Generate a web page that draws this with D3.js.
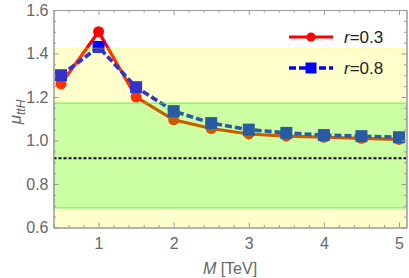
<!DOCTYPE html>
<meta charset="utf-8">
<style>
	body { margin: 0; background: #fff; }
	text { font-family: "Liberation Sans", Arial, sans-serif; fill: #666; }
</style>
<body>
<script src="https://cdn.jsdelivr.net/npm/d3@7"></script>
<script>

	// masses in TeV and signal strengths
	var masses = [0.5, 1, 1.5, 2, 2.5, 3, 3.5, 4, 4.5, 5];
	var muR03 = [1.26, 1.50, 1.20, 1.095, 1.055, 1.03, 1.02, 1.015, 1.01, 1.005];
	var muR08 = [1.30, 1.43, 1.245, 1.135, 1.08, 1.05, 1.035, 1.025, 1.02, 1.015];
	var seriesNames = ["r=0.3", "r=0.8"];

	// bands and reference line
	var yellowBand = [0.5, 1.425];
	var greenBand = [0.69, 1.172];
	var smLine = 0.918;

	var xTicks = [1, 2, 3, 4, 5];
	var yTicks = [0.6, 0.8, 1.0, 1.2, 1.4, 1.6];

	var width = 409, height = 278;
	var margin = {left: 53.5, right: 2.5, top: 10, bottom: 50.5};

	var x = d3.scaleLinear().domain([0.4, 5.1]).range([margin.left, width - margin.right]);
	var y = d3.scaleLinear().domain([0.6, 1.6]).range([height - margin.bottom, margin.top]);

	var svg = d3.select("body").append("svg")
		.attr("width", width)
		.attr("height", height);

	svg.append("clipPath").attr("id", "plot")
		.append("rect")
		.attr("x", x.range()[0]).attr("y", y.range()[1])
		.attr("width", x.range()[1] - x.range()[0])
		.attr("height", y.range()[0] - y.range()[1]);

	var plot = svg.append("g").attr("clip-path", "url(#plot)");

	var line = d3.line()
		.x(function(d, i) { return x(masses[i]); })
		.y(function(d) { return y(d); });

	// red series
	plot.append("path")
		.datum(muR03)
		.attr("d", line)
		.attr("fill", "none")
		.attr("stroke", "#ff0000")
		.attr("stroke-width", 3.2);
	plot.selectAll(".dot")
		.data(muR03)
		.enter().append("circle")
		.attr("cx", function(d, i) { return x(masses[i]); })
		.attr("cy", function(d) { return y(d); })
		.attr("r", 5.5)
		.attr("fill", "#ff0000");

	// blue series
	plot.append("path")
		.datum(muR08)
		.attr("d", line)
		.attr("fill", "none")
		.attr("stroke", "#0000ff")
		.attr("stroke-width", 3.6)
		.attr("stroke-dasharray", "7,3");
	plot.selectAll(".sq")
		.data(muR08)
		.enter().append("rect")
		.attr("x", function(d, i) { return x(masses[i]) - 6; })
		.attr("y", function(d) { return y(d) - 6; })
		.attr("width", 12)
		.attr("height", 12)
		.attr("fill", "#0000ff");

	// translucent bands drawn over the curves
	plot.append("rect")
		.attr("x", x.range()[0]).attr("width", x.range()[1] - x.range()[0])
		.attr("y", y(yellowBand[1])).attr("height", y(yellowBand[0]) - y(yellowBand[1]))
		.attr("fill", "#ffff00").attr("fill-opacity", 0.2)
		.attr("stroke", "#ffff00").attr("stroke-opacity", 0.3);
	plot.append("rect")
		.attr("x", x.range()[0]).attr("width", x.range()[1] - x.range()[0])
		.attr("y", y(greenBand[1])).attr("height", y(greenBand[0]) - y(greenBand[1]))
		.attr("fill", "#00ff00").attr("fill-opacity", 0.2)
		.attr("stroke", "#33ee33").attr("stroke-opacity", 0.5).attr("stroke-width", 1.5);

	plot.append("line")
		.attr("x1", x.range()[0]).attr("x2", x.range()[1])
		.attr("y1", y(smLine)).attr("y2", y(smLine))
		.attr("stroke", "#000").attr("stroke-width", 2)
		.attr("stroke-dasharray", "3,2");

	// frame with inward ticks
	var axisColor = "#9a9a9a";
	function frame(axis, transform, labels) {
		var g = svg.append("g").attr("transform", transform).call(axis);
		g.select(".domain").attr("stroke", axisColor);
		g.selectAll(".tick line").attr("stroke", axisColor);
		g.selectAll("text").attr("fill", "#666").style("font-size", "16px");
		if (!labels) g.selectAll("text").remove();
		return g;
	}
	var xMinor = d3.range(0.4, 5.11, 0.2).map(function(v) { return +v.toFixed(1); })
		.filter(function(v) { return xTicks.indexOf(v) < 0; });
	var yMinor = d3.range(0.6, 1.601, 0.05).map(function(v) { return +v.toFixed(2); })
		.filter(function(v) { return yTicks.map(function(t) { return t.toFixed(2); }).indexOf(v.toFixed(2)) < 0; });

	var by = y.range()[0], ty = y.range()[1], lx = x.range()[0], rx = x.range()[1];
	frame(d3.axisBottom(x).tickValues(xMinor).tickSize(-2.5).tickSizeOuter(0).tickFormat(""), "translate(0," + by + ")", false);
	frame(d3.axisTop(x).tickValues(xMinor).tickSize(-2.5).tickSizeOuter(0).tickFormat(""), "translate(0," + ty + ")", false);
	frame(d3.axisLeft(y).tickValues(yMinor).tickSize(-2.5).tickSizeOuter(0).tickFormat(""), "translate(" + lx + ",0)", false);
	frame(d3.axisRight(y).tickValues(yMinor).tickSize(-2.5).tickSizeOuter(0).tickFormat(""), "translate(" + rx + ",0)", false);

	frame(d3.axisBottom(x).tickValues(xTicks).tickSize(-5).tickSizeOuter(0).tickPadding(10).tickFormat(d3.format("d")), "translate(0," + by + ")", true);
	frame(d3.axisTop(x).tickValues(xTicks).tickSize(-5).tickSizeOuter(0), "translate(0," + ty + ")", false);
	frame(d3.axisLeft(y).tickValues(yTicks).tickSize(-5).tickSizeOuter(0).tickPadding(5).tickFormat(d3.format(".1f")), "translate(" + lx + ",0)", true);
	frame(d3.axisRight(y).tickValues(yTicks).tickSize(-5).tickSizeOuter(0), "translate(" + rx + ",0)", false);

	// axis titles
	var xt = svg.append("text")
		.attr("x", 230).attr("y", 274)
		.attr("text-anchor", "middle")
		.style("font-size", "16px");
	xt.append("tspan").attr("font-style", "italic").text("M");
	xt.append("tspan").text(" [TeV]");

	var yt = svg.append("text")
		.attr("transform", "translate(21,112) rotate(-90)")
		.attr("text-anchor", "middle")
		.style("font-size", "17px");
	yt.append("tspan").attr("font-style", "italic").text("μ");
	yt.append("tspan").attr("font-style", "italic").attr("dy", 4).style("font-size", "12px").text("ttH");

	// legend
	var legend = svg.append("g");
	var legY = [37, 68];
	legend.append("line").attr("x1", 289).attr("x2", 333).attr("y1", legY[0]).attr("y2", legY[0])
		.attr("stroke", "#ff0000").attr("stroke-width", 3.2);
	legend.append("circle").attr("cx", 311).attr("cy", legY[0]).attr("r", 4.5).attr("fill", "#ff0000");
	legend.append("line").attr("x1", 289).attr("x2", 333).attr("y1", legY[1]).attr("y2", legY[1])
		.attr("stroke", "#0000ff").attr("stroke-width", 3.6).attr("stroke-dasharray", "7,3");
	legend.append("rect").attr("x", 305.5).attr("y", legY[1] - 5.5).attr("width", 11).attr("height", 11).attr("fill", "#0000ff");

	seriesNames.forEach(function(name, i) {
		var t = legend.append("text").attr("x", 344).attr("y", legY[i] + 6)
			.style("font-size", "17px").style("fill", "#222");
		var parts = name.split("=");
		t.append("tspan").attr("font-style", "italic").text(parts[0]);
		t.append("tspan").text("=" + parts[1]);
	});

</script>
</body>
</html>
